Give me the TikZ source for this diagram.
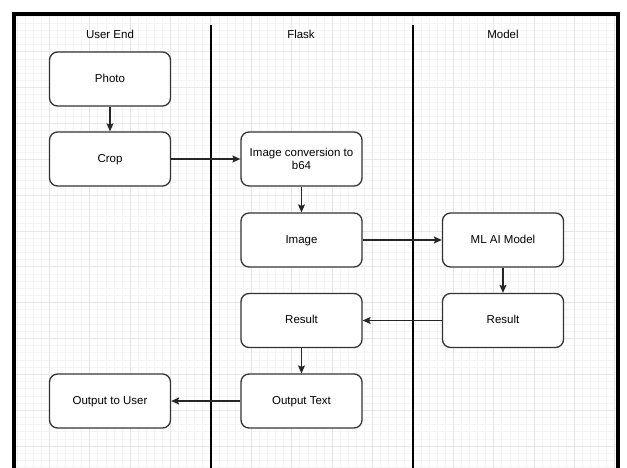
\documentclass[tikz,border=0pt]{standalone}
\usepackage{fontspec}
\setmainfont{Liberation Sans}
\usepackage{tikz}
\usetikzlibrary{arrows.meta,positioning}
\definecolor{gridlight}{HTML}{F5F5F5}
\definecolor{griddark}{HTML}{E6E6E6}
\tikzset{%
	process/.style  = {draw=black!80, fill=white, rectangle, rounded corners=8pt, line width=1.3pt, minimum width=121pt, minimum height=54pt, text centered, align=center, font=\fontsize{11.5}{13}\selectfont, text height=8.3pt, text depth=2.2pt},
	process2/.style = {process, text height=, text depth=},
	title/.style    = {font=\fontsize{11.5}{13}\selectfont},
	arrow/.style    = {line width=1.2pt, draw=black!85, -{Stealth[length=8pt,width=7pt,inset=1.5pt]}},
	lane/.style     = {line width=1.2pt, black},
	gridminor/.style= {gridlight, line width=0.7pt},
	gridmajor/.style= {griddark, line width=0.9pt},
}
\begin{document}
\begin{tikzpicture}[x=1pt,y=-1pt]
	\useasboundingbox (0,0) rectangle (627,467);
	% grid
	\begin{scope}
		\clip (16,16) rectangle (615,467);
		\foreach \i in {-4,...,70} \draw[gridminor] ({49.3+8.08*\i},16) -- ++(0,460);
		\foreach \j in {-5,...,59} \draw[gridminor] (16,{51.7+7.17*\j}) -- ++(600,0);
		\foreach \i in {-1,...,14} \draw[gridmajor] ({49.3+40.4*\i},16) -- ++(0,460);
		\foreach \j in {-1,...,11} \draw[gridmajor] (16,{51.7+35.85*\j}) -- ++(600,0);
	\end{scope}
	% frame and lanes
	\draw[line width=4pt] (14,470) -- (14,14) -- (618,14) -- (618,470);
	\draw[lane] (211,25) -- (211,470);
	\draw[lane] (413,25) -- (413,470);
	\node[title] (userend) at (110,34) {User End};
	\node[title] (flask) at (301,34) {Flask};
	\node[title] (modellane) at (503,34) {Model};
	% boxes
	\node[process] (photo) at (110,79) {Photo};
	\node[process] (crop) at (110,159) {Crop};
	\node[process2] (conv) at (301.5,159) {Image conversion to\\b64};
	\node[process] (image) at (301.5,240) {Image};
	\node[process] (model) at (503,240) {ML AI Model};
	\node[process] (mresult) at (503,320.5) {Result};
	\node[process] (fresult) at (301.5,320.5) {Result};
	\node[process] (outtext) at (301.5,401) {Output Text};
	\node[process] (outuser) at (110,401) {Output to User};
	% flow
	\draw[arrow] (photo) -- (crop);
	\draw[arrow] (crop) -- (conv);
	\draw[arrow] (conv) -- (image);
	\draw[arrow] (image) -- (model);
	\draw[arrow] (model) -- (mresult);
	\draw[arrow] (mresult) -- (fresult);
	\draw[arrow] (fresult) -- (outtext);
	\draw[arrow] (outtext) -- (outuser);
\end{tikzpicture}
\end{document}
